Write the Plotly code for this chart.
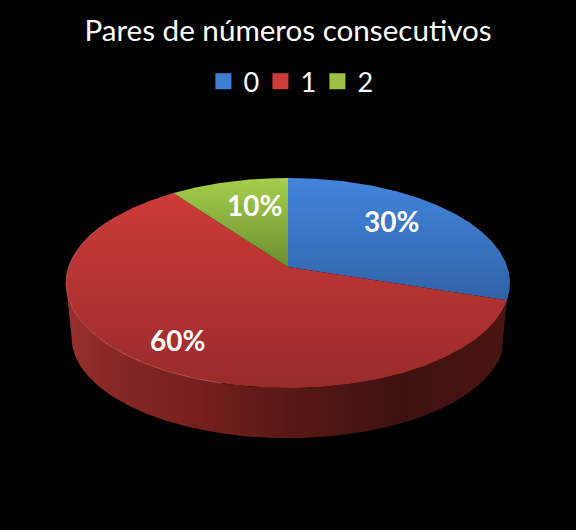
import numpy as np
import plotly.graph_objects as go

categories = ["0", "1", "2"]
values = [30, 60, 10]
title_text = "Pares de números consecutivos"
top_colors = [
    ["#4285dc", "#2f62a6"],
    ["#d03c3a", "#992b2a"],
    ["#a6cf4c", "#6b8f30"],
]
legend_colors = ["#3f7fd2", "#cf3d3b", "#9bc246"]
side_stops = [[0, "#9a302e"], [0.1, "#862826"], [0.3, "#761f1e"], [0.5, "#581816"],
              [0.75, "#3e1210"], [1, "#4a1412"]]

CX, CY, A, B, K = 288.0, 267.0, 219.4, 102.6, 0.1524
DEPTH, SX, SY = 55.0, 0.975, 0.96


def project(theta, radius=1.0, bottom=False):
    t = np.radians(theta)
    x, y = radius * np.sin(t), radius * np.cos(t)
    d = 1 + K * y
    if bottom:
        return CX + SX * A * x / d, CY + DEPTH - SY * B * y / d
    return CX + A * x / d, CY - B * y / d


shares = np.array(values) / sum(values) * 360
ends = np.cumsum(shares)
starts = ends - shares

fig = go.Figure()

# side wall of the front slice, ending at the left silhouette of the disc
silhouette = 360 - np.degrees(np.arccos(-K))
th = np.linspace(starts[1], silhouette, 200)
xt, yt = project(th)
xb, yb = project(th[::-1], bottom=True)
fig.add_trace(go.Scatter(
    x=np.r_[xt, xb], y=np.r_[yt, yb], mode="lines", fill="toself", line=dict(width=0),
    showlegend=False, hoverinfo="skip",
    fillgradient=dict(type="horizontal", colorscale=side_stops, start=66, stop=510),
))

# top surface
for i, (s, e) in enumerate(zip(starts, ends)):
    th = np.linspace(s, e, int(max(e - s, 4) * 2) + 2)
    xr, yr = project(th)
    x = np.r_[CX, xr, CX]
    y = np.r_[CY, yr, CY]
    fig.add_trace(go.Scatter(
        x=x, y=y, mode="lines", fill="toself", line=dict(width=0), showlegend=False, hoverinfo="skip",
        fillgradient=dict(type="vertical", start=178, stop=[305, 388, 267][i],
                          colorscale=[[0, top_colors[i][0]], [1, top_colors[i][1]]]),
    ))

# light rim along the front-left edge
th = np.linspace(195, 300, 80)
xr, yr = project(th)
fig.add_trace(go.Scatter(x=xr, y=yr, mode="lines", line=dict(width=1, color="rgba(225,120,110,0.55)"),
                         showlegend=False, hoverinfo="skip"))

# legend entries
for name, col in zip(categories, legend_colors):
    fig.add_trace(go.Scatter(x=[None], y=[None], mode="markers", name=name,
                             marker=dict(symbol="square", size=17, color=col)))

label_pos = [(391, 221), (177, 340), (254, 205)]
for v, (lx, ly) in zip(values, label_pos):
    fig.add_annotation(x=lx, y=ly, text=f"<b>{v}%</b>", showarrow=False,
                       font=dict(family="Lato", size=28, color="white"))

fig.update_layout(
    width=576, height=530,
    margin=dict(l=0, r=0, t=0, b=0),
    paper_bgcolor="black", plot_bgcolor="black",
    title=dict(text=title_text, x=0.5, xanchor="center", y=0.943, yanchor="middle",
               font=dict(family="Lato", size=29.6, color="white")),
    legend=dict(orientation="h", x=0.5016, xanchor="center", y=0.846, yanchor="middle",
                font=dict(family="Lato", size=27, color="white"), bgcolor="rgba(0,0,0,0)",
                itemwidth=30, entrywidth=12, entrywidthmode="pixels"),
    xaxis=dict(range=[0, 576], visible=False, fixedrange=True),
    yaxis=dict(range=[530, 0], visible=False, fixedrange=True),
)
fig.write_html(
    "out.html",
    config={"displayModeBar": False},
    post_script="document.body.style.margin='0';document.body.style.background='black';"
                "document.body.style.overflow='hidden';"
                "document.body.style.fontVariantLigatures='none';",
)
